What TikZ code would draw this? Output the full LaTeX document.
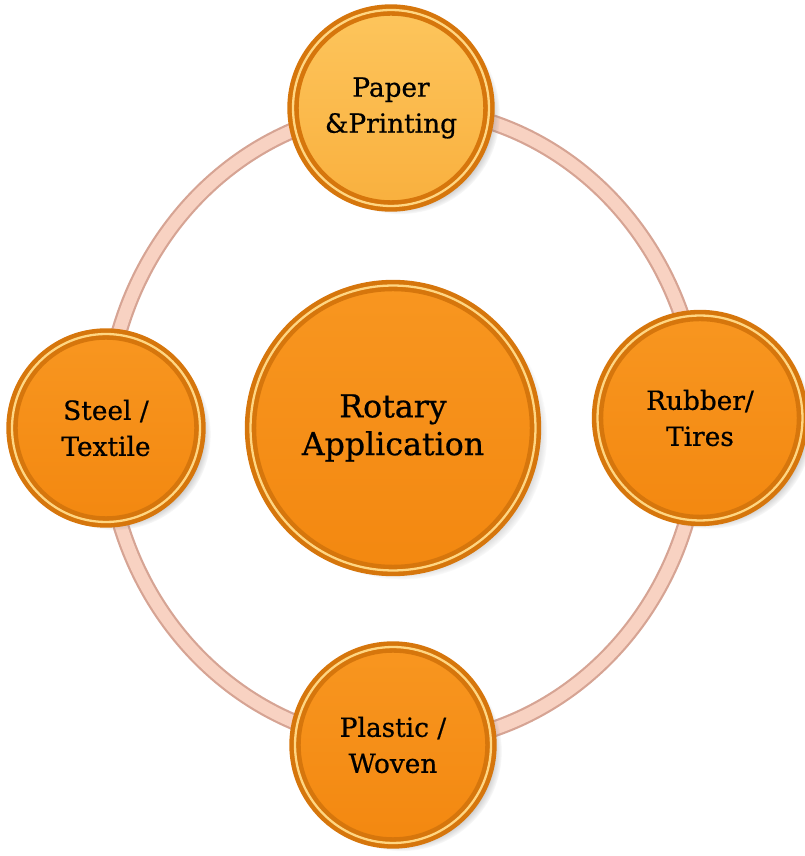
\documentclass[tikz,border=0pt]{standalone}
\usepackage{fontspec}
\setmainfont[FakeBold=0.6]{DejaVu Serif}
\usetikzlibrary{shadows}
\definecolor{rotaryorange}{RGB}{248,150,32}
\definecolor{rotarydeep}{RGB}{243,136,16}
\definecolor{rotarygold}{RGB}{253,197,92}
\definecolor{rotarysand}{RGB}{249,176,62}
\definecolor{rotaryrim}{RGB}{214,118,12}
\definecolor{rotaryshine}{RGB}{255,214,130}
\definecolor{ringedge}{RGB}{214,164,148}
\definecolor{ringfill}{RGB}{248,210,194}

\begin{document}
\begin{tikzpicture}[x=0.02cm, y=0.02cm]
    \tikzstyle{coin} = [circle, align=center, inner sep=0pt, draw=rotaryrim, line width=2.6pt, double=rotaryshine, double distance=1.3pt, circular drop shadow={shadow xshift=5pt, shadow yshift=-3.5pt, opacity=0.7, shadow scale=1.02}, top color=rotaryorange, bottom color=rotarydeep, font=\fontsize{15}{20.5}\selectfont]
    \tikzstyle{ring} = [line width=9.5pt, ringedge]

    \useasboundingbox (0,0) rectangle (805,856);

    % ring behind the coins
    \coordinate (ringc) at (403,430);
    \draw[ring] (ringc) ellipse [x radius=297, y radius=318];
    \draw[ring, line width=7pt, ringfill] (ringc) ellipse [x radius=297, y radius=318];

    \node[coin, minimum size=3.92cm, top color=rotarygold, bottom color=rotarysand] (paper) at (391,748) {Paper\\\&Printing};
    \node[coin, minimum size=3.76cm] (steel) at (106,428) {Steel /\\Textile};
    \node[coin, minimum size=4.1cm] (rubber) at (700,438) {Rubber/\\Tires};
    \node[coin, minimum size=3.92cm] (plastic) at (393,111) {Plastic /\\Woven};
    \node[coin, minimum size=5.7cm, font=\fontsize{18}{21.5}\selectfont] (rotary) at (393,428) {Rotary\\Application};
\end{tikzpicture}
\end{document}
